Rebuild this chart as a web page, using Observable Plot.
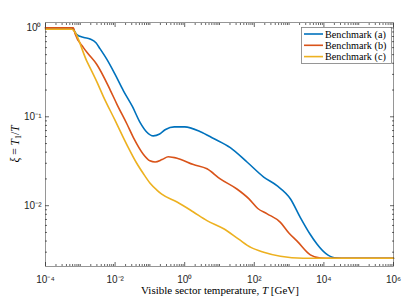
<!DOCTYPE html>
<html>
<head>
<meta charset="utf-8">
<script src="https://cdn.jsdelivr.net/npm/d3@7"></script>
<script src="https://cdn.jsdelivr.net/npm/@observablehq/plot@0.6"></script>
<style>
  html, body { margin: 0; padding: 0; background: #fff; }
  #chart { width: 407px; height: 300px; }
</style>
</head>
<body>
<div id="chart"></div>
<script>
// ---- data (log10 of temperature T in GeV, and xi = T1/T) ----
const seriesNames = ["Benchmark (a)", "Benchmark (b)", "Benchmark (c)"];
const seriesColors = ["#0072BD", "#D95319", "#EDB120"];

const logT_a = [-4, -3.25, -3.1, -2.9, -2.72, -2.55, -2.43, -2.24, -2.0, -1.76, -1.5, -1.28, -1.1, -0.9, -0.72, -0.55, -0.3, 0.0, 0.45, 0.83, 1.31, 1.79, 2.27, 2.65, 3.04, 3.32, 3.6, 3.8, 4.05, 4.3, 4.7, 6];
const xi_a   = [1.0, 1.0, 0.84, 0.78, 0.75, 0.68, 0.58, 0.445, 0.30, 0.196, 0.13, 0.086, 0.068, 0.061, 0.064, 0.072, 0.077, 0.077, 0.068, 0.057, 0.045, 0.031, 0.021, 0.0168, 0.0119, 0.0074, 0.0048, 0.0037, 0.0029, 0.0026, 0.00256, 0.00256];

const logT_b = [-4, -3.2, -3.15, -2.91, -2.77, -2.53, -2.14, -1.95, -1.66, -1.47, -1.19, -1.0, -0.85, -0.65, -0.47, -0.2, 0.25, 0.64, 1.02, 1.5, 1.84, 2.1, 2.37, 2.75, 3.0, 3.23, 3.61, 3.9, 4.2, 6];
const xi_b   = [1.0, 1.0, 0.86, 0.60, 0.51, 0.39, 0.20, 0.139, 0.083, 0.058, 0.038, 0.032, 0.031, 0.033, 0.0355, 0.034, 0.029, 0.026, 0.020, 0.0154, 0.012, 0.0093, 0.0081, 0.0065, 0.0049, 0.0040, 0.0028, 0.00258, 0.00256, 0.00256];

const logT_c = [-4, -3.25, -2.81, -2.53, -2.34, -2.0, -1.76, -1.62, -1.4, -1.19, -1.0, -0.8, -0.66, -0.22, 0.25, 0.64, 1.12, 1.55, 1.9, 2.27, 2.75, 3.4, 6];
const xi_c   = [0.967, 0.967, 0.42, 0.25, 0.17, 0.091, 0.058, 0.045, 0.031, 0.023, 0.018, 0.015, 0.0135, 0.011, 0.0085, 0.0068, 0.0055, 0.0042, 0.0034, 0.0030, 0.0027, 0.00256, 0.00256];

const xTickExps = [-4, -2, 0, 2, 4, 6];
const yTickExps = [-2, -1, 0];
const xLabel = "Visible sector temperature, ";
const yDomain = [2.07e-3, 1.15];
const xDomain = [1e-4, 1e6];

// ---- build tables ----
const rows = [];
[[logT_a, xi_a], [logT_b, xi_b], [logT_c, xi_c]].forEach(([lt, xi], k) => {
  lt.forEach((v, i) => rows.push({T: Math.pow(10, v), xi: xi[i], s: seriesNames[k]}));
});

const sup = {"-": "\u207B", "0": "\u2070", "1": "\u00B9", "2": "\u00B2", "3": "\u00B3", "4": "\u2074", "5": "\u2075", "6": "\u2076", "7": "\u2077", "8": "\u2078", "9": "\u2079"};
const fmt = d => "10" + String(Math.round(Math.log10(d))).split("").map(c => sup[c]).join("");

const xMajor = xTickExps.map(e => Math.pow(10, e));
const yMajor = yTickExps.map(e => Math.pow(10, e));
const xMinor = [];
for (let e = -4; e < 6; e++) for (let m = 1; m <= 9; m++) { const v = m * Math.pow(10, e); if (!xMajor.includes(v)) xMinor.push(v); }
const yMinor = [];
for (let e = -3; e < 1; e++) for (let m = 2; m <= 9; m++) { const v = m * Math.pow(10, e); if (v >= yDomain[0] && v <= yDomain[1]) yMinor.push(v); }

const axisColor = "#262626";
const blank = () => "";
const tk = {stroke: axisColor, strokeOpacity: 0.7, tickFormat: blank, label: null};
const plot = Plot.plot({
  width: 407,
  height: 300,
  marginLeft: 45,
  marginRight: 14,
  marginTop: 22,
  marginBottom: 34,
  x: {type: "log", domain: xDomain, label: null},
  y: {type: "log", domain: yDomain, label: null},
  style: {fontFamily: "'Liberation Sans', Arial, sans-serif", fontSize: "10px", color: axisColor, background: "#fff", overflow: "visible"},
  marks: [
    // tick labels
    Plot.axisX(xMajor, {anchor: "bottom", tickSize: 0, tickPadding: 9, tickFormat: fmt, fill: axisColor, label: null}),
    Plot.axisY(yMajor, {anchor: "left", tickSize: 0, tickPadding: 4, tickFormat: fmt, fill: axisColor, label: null}),
    // inner ticks
    Plot.axisX(xMajor, {anchor: "bottom", tickSize: 4, dy: -4, ...tk}),
    Plot.axisX(xMinor, {anchor: "bottom", tickSize: 2, dy: -2, ...tk}),
    Plot.axisX(xMajor, {anchor: "top", tickSize: 4, dy: 4, ...tk}),
    Plot.axisX(xMinor, {anchor: "top", tickSize: 2, dy: 2, ...tk}),
    Plot.axisY(yMajor, {anchor: "left", tickSize: 4, dx: 4, ...tk}),
    Plot.axisY(yMinor, {anchor: "left", tickSize: 2, dx: 2, ...tk}),
    Plot.axisY(yMajor, {anchor: "right", tickSize: 4, dx: -4, ...tk}),
    Plot.axisY(yMinor, {anchor: "right", tickSize: 2, dx: -2, ...tk}),
    Plot.line(rows, {x: "T", y: "xi", z: "s", stroke: d => seriesColors[seriesNames.indexOf(d.s)], strokeWidth: 1.6, curve: "monotone-x"}),
    Plot.frame({stroke: axisColor, strokeOpacity: 0.6, strokeWidth: 0.8})
  ]
});
document.getElementById("chart").appendChild(plot);

// ---- axis titles and legend (serif, LaTeX-like) ----
const svg = d3.select(plot);
const serif = "'Liberation Serif', 'DejaVu Serif', serif";
const xt = svg.append("text").attr("x", 220).attr("y", 294).attr("text-anchor", "middle")
  .attr("font-family", serif).attr("font-size", 11).attr("fill", "#000");
xt.append("tspan").text(xLabel);
xt.append("tspan").attr("font-style", "italic").text("T");
xt.append("tspan").text(" [GeV]");

const yt = svg.append("text").attr("transform", "translate(19,144) rotate(-90)").attr("text-anchor", "middle")
  .attr("font-family", serif).attr("font-size", 11.5).attr("fill", "#000");
yt.append("tspan").attr("font-style", "italic").text("\u03BE");
yt.append("tspan").text(" = ");
yt.append("tspan").attr("font-style", "italic").text("T");
yt.append("tspan").attr("font-size", 8).attr("dy", 2).text("1");
yt.append("tspan").attr("dy", -2).text("/");
yt.append("tspan").attr("font-style", "italic").text("T");

const lg = svg.append("g");
lg.append("rect").attr("x", 301.5).attr("y", 27.5).attr("width", 90).attr("height", 36)
  .attr("fill", "#fff").attr("stroke", axisColor).attr("stroke-opacity", 0.6).attr("stroke-width", 0.8);
seriesNames.forEach((name, i) => {
  const y = 34 + i * 11.3;
  lg.append("line").attr("x1", 304).attr("x2", 323).attr("y1", y).attr("y2", y)
    .attr("stroke", seriesColors[i]).attr("stroke-width", 1.6);
  lg.append("text").attr("x", 325).attr("y", y).attr("dy", "0.35em").attr("text-anchor", "start")
    .attr("font-family", serif).attr("font-size", 10.2).attr("fill", "#000").text(name);
});
</script>
</body>
</html>
